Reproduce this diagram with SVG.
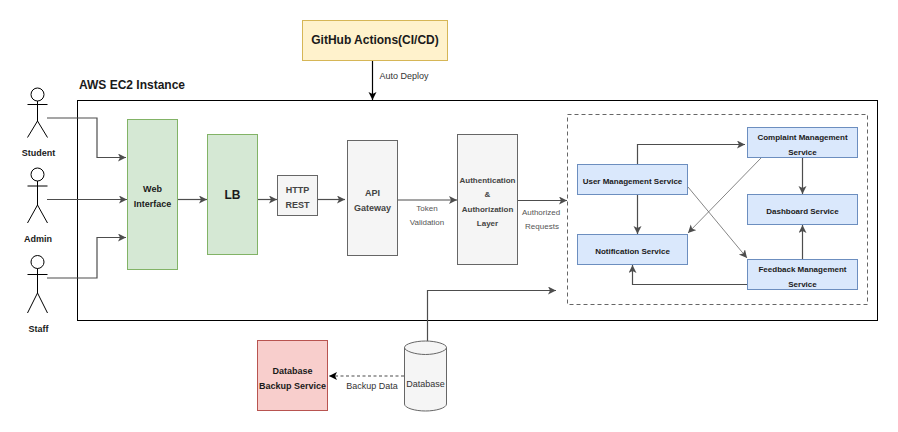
<svg xmlns="http://www.w3.org/2000/svg" width="898" height="432" viewBox="0 0 898 432">
<defs>
<marker id="a" markerUnits="userSpaceOnUse" markerWidth="10" markerHeight="10" refX="8" refY="4" orient="auto"><path d="M0 0 L8 4 L0 8 L2 4 Z" fill="#4d4d4d"/></marker>
<marker id="k" markerUnits="userSpaceOnUse" markerWidth="10" markerHeight="10" refX="8" refY="4" orient="auto"><path d="M0 0 L8 4 L0 8 L2 4 Z" fill="#000"/></marker>
</defs>
<style>
text{font-family:"Liberation Sans",Arial,sans-serif;text-anchor:middle;fill:#1a1a1a}
.s{font-size:9px;font-weight:bold}
.t{font-size:8px;font-weight:bold}
.m{font-size:9px;font-weight:bold;fill:#444}
.a{font-size:8px;font-weight:bold;fill:#444}
.l{font-size:9px;fill:#333}
.v{font-size:8px;fill:#555}
.c{fill:none;stroke:#4d4d4d;stroke-width:1.2;marker-end:url(#a)}
.d{fill:none;stroke:#666;stroke-width:.8;marker-end:url(#a)}
.g{fill:#d5e8d4;stroke:#82b366}
.w{fill:#f5f5f5;stroke:#666}
.b{fill:#dae8fc;stroke:#6c8ebf}
.p{fill:none;stroke:#000;stroke-width:1}
</style>
<rect id="ec2" x="77.500" y="100.500" width="800" height="220" fill="#fff" stroke="#000"/>
<text x="132" y="89" style="font-size:12px;font-weight:bold">AWS EC2 Instance</text>
<g id="services-boundary"><rect x="567.500" y="114.500" width="300" height="190" fill="none" stroke="#666" stroke-dasharray="4 3"/></g>
<g id="connectors">
<path class="c" d="M47 118H97V157.500H126"/>
<path class="c" d="M47 199.500H127"/>
<path class="c" d="M47 278H97V237.500H126"/>
<path class="c" d="M177 199.500H207"/>
<path class="c" d="M257 199.500H277"/>
<path class="c" d="M317 199.500H345"/>
<path class="c" d="M397 200H457"/>
<path class="c" d="M517 200.500H567"/>
<path class="c" d="M637.500 164V144.500H745"/>
<path class="c" d="M637.500 194V234"/>
<path class="d" d="M688 187L747 258"/>
<path class="d" d="M761 158L688 233"/>
<path class="c" d="M802.500 157V194"/>
<path class="c" d="M802.500 259V225"/>
<path class="c" d="M747 284.500H632.500V265"/>
<path class="c" d="M427.500 341V290.500H556"/>
<path d="M372.500 61V100" fill="none" stroke="#000" stroke-width="1.200" marker-end="url(#k)"/>
<path d="M404 376H329" fill="none" stroke="#4d4d4d" stroke-width="1.200" stroke-dasharray="3 2.500" marker-end="url(#k)"/>
</g>
<text class="l" x="404" y="79">Auto Deploy</text>
<text class="v" x="427" y="211">Token</text><text class="v" x="427" y="225">Validation</text>
<text class="v" x="541" y="215">Authorized</text><text class="v" x="542" y="229">Requests</text>
<text class="l" x="372" y="389">Backup Data</text>
<g id="github"><rect x="302.500" y="20.500" width="145" height="40" fill="#fff2cc" stroke="#d6b656"/><text x="375" y="44" style="font-size:12px;font-weight:bold">GitHub Actions(CI/CD)</text></g>
<g id="student"><circle cx="37.500" cy="94.500" r="6.500" fill="#fff" stroke="#000"/><path class="p" d="M37.500 101V121M27.500 104.500H47.500M37.500 121L27.500 137.500M37.500 121L47.500 137.500"/><text class="s" x="38.500" y="156">Student</text></g>
<g id="admin"><circle cx="37.500" cy="174.500" r="6.500" fill="#fff" stroke="#000"/><path class="p" d="M37.500 181V205M27.500 186H47.500M37.500 205L27.500 223M37.500 205L47.500 223"/><text class="s" x="38" y="242">Admin</text></g>
<g id="staff"><circle cx="37.500" cy="262" r="6.500" fill="#fff" stroke="#000"/><path class="p" d="M37.500 268.500V293M27.500 274.500H47.500M37.500 293L27.500 313M37.500 293L47.500 313"/><text class="s" x="38.500" y="332">Staff</text></g>
<g id="web"><rect class="g" x="127.500" y="119.500" width="50" height="150"/><text class="s" x="152.500" y="192">Web</text><text class="s" x="152.500" y="207">Interface</text></g>
<g id="lb"><rect class="g" x="207.500" y="134.500" width="50" height="120"/><text x="232.500" y="199" style="font-size:12px;font-weight:bold">LB</text></g>
<g id="http"><rect class="w" x="277.500" y="175.500" width="40" height="40"/><text class="m" x="297.500" y="193">HTTP</text><text class="m" x="297.500" y="208">REST</text></g>
<g id="api"><rect class="w" x="347.500" y="140.500" width="50" height="115"/><text class="m" x="372.500" y="196">API</text><text class="m" x="372.500" y="211">Gateway</text></g>
<g id="auth"><rect class="w" x="457.500" y="134.500" width="60" height="130"/><text class="a" x="487.500" y="183">Authentication</text><text class="a" x="487.500" y="197">&amp;</text><text class="a" x="487.500" y="212">Authorization</text><text class="a" x="487.500" y="226">Layer</text></g>
<g id="user"><rect class="b" x="577.500" y="164.500" width="110" height="30"/><text class="t" x="632.500" y="184">User Management Service</text></g>
<g id="notification"><rect class="b" x="577.500" y="234.500" width="110" height="30"/><text class="t" x="632.500" y="254">Notification Service</text></g>
<g id="complaint"><rect class="b" x="747.500" y="127.500" width="110" height="30"/><text class="t" x="802.500" y="140">Complaint Management</text><text class="t" x="802.500" y="155">Service</text></g>
<g id="dashboard"><rect class="b" x="747.500" y="194.500" width="110" height="30"/><text class="t" x="802.500" y="214">Dashboard Service</text></g>
<g id="feedback"><rect class="b" x="747.500" y="259.500" width="110" height="30"/><text class="t" x="802.500" y="272">Feedback Management</text><text class="t" x="802.500" y="287">Service</text></g>
<g id="backup"><rect x="257.500" y="340.500" width="70" height="70" fill="#f8cecc" stroke="#b85450"/><text class="s" x="292.500" y="374">Database</text><text class="s" x="292.500" y="389">Backup Service</text></g>
<g id="database"><path d="M404.500 347.500V404C404.500 408 415 411 425.500 411S446.500 408 446.500 404V347.500C446.500 344 436 341 425.500 341S404.500 344 404.500 347.500Z" fill="#f5f5f5" stroke="#666"/><path d="M404.500 347.500C404.500 351 415 354.500 425.500 354.500S446.500 351 446.500 347.500" fill="none" stroke="#666"/><text x="425.500" y="387" style="font-size:9px;fill:#333">Database</text></g>
</svg>
